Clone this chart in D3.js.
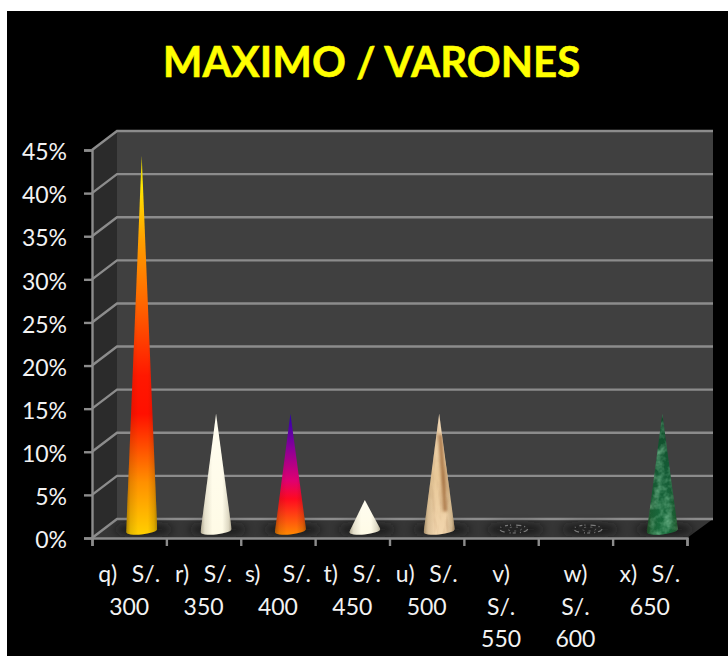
<!DOCTYPE html>
<html>
<head>
<meta charset="utf-8">
<script src="https://cdn.jsdelivr.net/npm/d3@7"></script>
<style>
  html, body { margin: 0; padding: 0; background: #fff; overflow: hidden; }
  text { font-family: Lato, "Open Sans", sans-serif; white-space: pre; }
</style>
</head>
<body>
<div id="chart"></div>
<script>
// datos
var titulo = "MAXIMO / VARONES";
var categorias = ["q", "r", "s", "t", "u", "v", "w", "x"];
var valores = [43.3, 13.3, 13.3, 3.3, 13.3, 0, 0, 13.3];
var etiquetas = [
    ["q)  S/.", "300"],
    ["r)  S/.", "350"],
    ["s)   S/.", "400"],
    ["t)  S/.", "450"],
    ["u)  S/.", "500"],
    ["v)", "S/.", "550"],
    ["w)", "S/.", "600"],
    ["x)  S/.", "650"]
];
var ticksY = [0, 5, 10, 15, 20, 25, 30, 35, 40, 45];

// colores de cada cono, de la base a la punta
var rellenos = [
    [[0, "#ffd000"], [0.14, "#ff9000"], [0.32, "#ff1000"], [0.42, "#ff1800"], [0.62, "#ff6a00"], [0.78, "#ffa000"], [0.92, "#ffe800"], [1, "#d8c800"]],
    [[0, "#fffbe6"], [1, "#fffdf0"]],
    [[0, "#ff8a00"], [0.3, "#ff0a20"], [0.45, "#e00070"], [0.72, "#8a0098"], [1, "#2a00b0"]],
    [[0, "#fffbe6"], [1, "#fffdf0"]],
    [[0, "#f2d6ae"], [0.5, "#e8c898"], [1, "#f2dcbc"]],
    [[0, "#888888"], [1, "#888888"]],
    [[0, "#888888"], [1, "#888888"]],
    [[0, "#1a6c3c"], [0.5, "#155c36"], [1, "#0f4a28"]]
];

var ancho = 728, alto = 656;
var fondoX = 7, fondoY = 11;
var izq = 92, der = 687, base = 538, techo = 150;
var profX = 25, profY = 19;   // profundidad de la caja 3d
var radio = 15.5, radioY = 4;

var svg = d3.select("#chart").append("svg")
    .attr("width", ancho)
    .attr("height", alto)
    .style("display", "block");

var defs = svg.append("defs");

svg.append("rect")
    .attr("x", fondoX).attr("y", fondoY)
    .attr("width", ancho - fondoX).attr("height", alto - fondoY)
    .attr("fill", "#000");

// Escalas
var xScale = d3.scaleLinear().domain([0, categorias.length]).range([izq, der]);
var yScale = d3.scaleLinear().domain([0, 45]).range([base, techo]);

// Titulo
svg.append("text")
    .attr("x", 371.5).attr("y", 77)
    .attr("text-anchor", "middle")
    .attr("font-size", 42)
    .attr("font-weight", "bold")
    .attr("fill", "#ffff00")
    .attr("stroke", "#ffff00")
    .attr("stroke-width", 0.5)
    .text(titulo);

// Paredes y piso
svg.append("polygon")
    .attr("points", [[izq, base], [izq + profX, base - profY], [izq + profX, techo - profY], [izq, techo]].join(" "))
    .attr("fill", "#2b2b2b");
svg.append("rect")
    .attr("x", izq + profX).attr("y", techo - profY)
    .attr("width", der - izq + 1).attr("height", base - techo)
    .attr("fill", "#404040");
svg.append("polygon")
    .attr("points", [[izq, base], [der, base], [der + profX + 1, base - profY], [izq + profX, base - profY]].join(" "))
    .attr("fill", "#363636");

// Lineas de division
var rejilla = svg.append("g").attr("stroke", "#8c8c8c").attr("stroke-width", 2.4).attr("fill", "none");
rejilla.selectAll("path.linea")
    .data(ticksY)
    .enter()
    .append("path")
    .attr("class", "linea")
    .attr("d", function(d) {
        var y = yScale(d);
        return "M" + izq + "," + y + "L" + (izq + profX) + "," + (y - profY) + "L" + (der + profX + 1) + "," + (y - profY);
    });

// Filtros para las sombras y el marmol
defs.append("filter").attr("id", "difuso")
    .attr("x", "-30%").attr("y", "-80%").attr("width", "160%").attr("height", "260%")
    .append("feGaussianBlur").attr("stdDeviation", 4);
defs.append("filter").attr("id", "veta")
    .attr("x", "-100%").attr("y", "-20%").attr("width", "300%").attr("height", "140%")
    .append("feGaussianBlur").attr("stdDeviation", 1.4);

function marmol(id, frecX, frecY, semilla, matriz) {
    var f = defs.append("filter").attr("id", id)
        .attr("x", "0").attr("y", "0").attr("width", "100%").attr("height", "100%");
    f.append("feTurbulence")
        .attr("type", "fractalNoise")
        .attr("baseFrequency", frecX + " " + frecY)
        .attr("numOctaves", 3)
        .attr("seed", semilla);
    f.append("feColorMatrix").attr("type", "matrix").attr("values", matriz);
}
marmol("marmolVerde", 0.11, 0.11, 4, "0 0 0 0 0.3  0 0 0 0 0.68  0 0 0 0 0.42  1.3 0 0 0 -0.5");
marmol("marmolCafe", 0.14, 0.03, 7, "0 0 0 0 0.6  0 0 0 0 0.38  0 0 0 0 0.2  2 0 0 0 -0.95");

// Gradientes
rellenos.forEach(function(stops, i) {
    var g = defs.append("linearGradient").attr("id", "cono" + i)
        .attr("x1", 0).attr("y1", 1).attr("x2", 0).attr("y2", 0);
    stops.forEach(function(s) {
        g.append("stop").attr("offset", s[0]).attr("stop-color", s[1]);
    });
});
var luz = defs.append("linearGradient").attr("id", "luz");
[[0, 0.38], [0.14, 0.12], [0.38, 0], [0.7, 0], [0.9, 0.16], [1, 0.38]].forEach(function(s) {
    luz.append("stop").attr("offset", s[0]).attr("stop-color", "#2a1c00").attr("stop-opacity", s[1]);
});

// Los conos van a media profundidad de la caja
var cx = function(i) { return xScale(i + 0.5) + profX / 2; };
var cy = function(v) { return yScale(v) - profY / 2; };

// la base del cono queda un poco inclinada por la perspectiva
function forma(i) {
    var pie = cy(0), x = cx(i);
    return "M" + (x - radio) + "," + (pie + 3.5) + "L" + x + "," + cy(valores[i]) + "L" + (x + radio) + "," + (pie + 0.5) +
        "A" + radio + "," + radioY + " -6 0 1 " + (x - radio) + "," + (pie + 3.5) + "Z";
}

var grupo = svg.append("g");

// Sombras en el piso
grupo.selectAll("ellipse.sombra")
    .data(valores)
    .enter()
    .append("ellipse")
    .attr("class", "sombra")
    .attr("cx", function(d, i) { return cx(i) + 2; })
    .attr("cy", cy(0) + 1)
    .attr("rx", 29)
    .attr("ry", 6)
    .attr("fill", "#151515")
    .attr("opacity", 0.75)
    .attr("filter", "url(#difuso)");

valores.forEach(function(v, i) {
    if (v === 0) {
        // valor cero: solo quedan unas marcas en el piso
        grupo.append("ellipse")
            .attr("cx", cx(i)).attr("cy", cy(0) + 0.5)
            .attr("rx", 14).attr("ry", 4)
            .attr("fill", "none")
            .attr("stroke", "#7c7c7c")
            .attr("stroke-width", 1.2)
            .attr("stroke-dasharray", "5 3 1 4 3 2 1 5");
        grupo.append("ellipse")
            .attr("cx", cx(i) + 1).attr("cy", cy(0) + 0.5)
            .attr("rx", 7).attr("ry", 2)
            .attr("fill", "none")
            .attr("stroke", "#6a6a6a")
            .attr("stroke-width", 1)
            .attr("stroke-dasharray", "2 4");
        return;
    }
    defs.append("clipPath").attr("id", "corte" + i).append("path").attr("d", forma(i));
    var c = grupo.append("g").attr("clip-path", "url(#corte" + i + ")");
    var caja = { x: cx(i) - radio, y: cy(v), width: radio * 2, height: cy(0) - cy(v) + radioY + 3 };
    c.append("rect").attr("x", caja.x).attr("y", caja.y).attr("width", caja.width).attr("height", caja.height)
        .attr("fill", "url(#cono" + i + ")");
    if (categorias[i] === "x" || categorias[i] === "u") {
        c.append("rect").attr("x", caja.x).attr("y", caja.y).attr("width", caja.width).attr("height", caja.height)
            .attr("filter", categorias[i] === "x" ? "url(#marmolVerde)" : "url(#marmolCafe)");
    }
    if (categorias[i] === "u") {
        // veta cafe del cono de marmol claro
        c.append("path")
            .attr("d", "M" + (cx(i) + 1) + "," + cy(v * 0.82) + "L" + (cx(i) + 4) + "," + cy(v * 0.45) + "L" + (cx(i) + 6) + "," + cy(v * 0.15))
            .attr("fill", "none")
            .attr("stroke", "#9a6434")
            .attr("stroke-width", 4)
            .attr("opacity", 0.8)
            .attr("filter", "url(#veta)");
    }
    c.append("rect").attr("x", caja.x).attr("y", caja.y).attr("width", caja.width).attr("height", caja.height)
        .attr("fill", "url(#luz)");
});

// Ejes
var ejeY = svg.append("g")
    .attr("transform", "translate(" + izq + ",0)")
    .call(d3.axisLeft(yScale).tickValues(ticksY).tickSize(8).tickPadding(17).tickFormat(function(d) { return d + "%"; }));
var ejeX = svg.append("g")
    .attr("transform", "translate(0," + base + ")")
    .call(d3.axisBottom(xScale).ticks(categorias.length).tickSize(8).tickFormat(""));

[ejeY, ejeX].forEach(function(eje) {
    eje.selectAll("path.domain").attr("stroke", "#8c8c8c").attr("stroke-width", 2.4);
    eje.selectAll("line").attr("stroke", "#8c8c8c").attr("stroke-width", 2.4);
});
ejeY.selectAll("text")
    .attr("font-size", 23)
    .attr("font-family", "Lato, sans-serif")
    .attr("dy", "0.42em")
    .attr("fill", "#f2f2f2");

// Etiquetas de categoria
var rotulos = svg.append("g")
    .attr("text-anchor", "middle")
    .attr("font-size", 23)
    .attr("word-spacing", 1.5)
    .attr("fill", "#f2f2f2");
etiquetas.forEach(function(lineas, i) {
    rotulos.selectAll(null)
        .data(lineas)
        .enter()
        .append("text")
        .attr("x", xScale(i + 0.5))
        .attr("y", function(d, j) { return 582 + j * 32.5; })
        .text(function(d) { return d; });
});
</script>
</body>
</html>
